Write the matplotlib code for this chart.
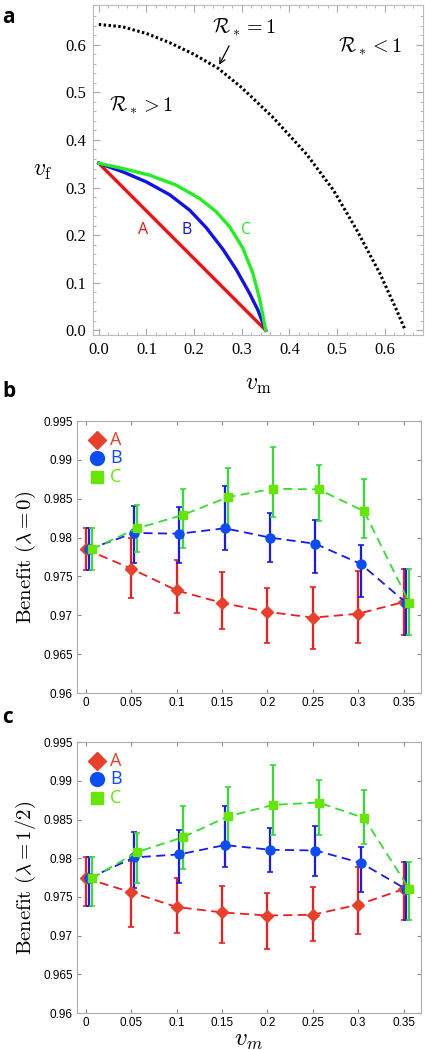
import numpy as np
import matplotlib
matplotlib.use("Agg")
import matplotlib.pyplot as plt

plt.rcParams["mathtext.fontset"] = "cm"

# panel a: curves
crit_vm = [0.0, 0.05, 0.1, 0.15, 0.2, 0.25, 0.3, 0.366, 0.436, 0.492, 0.541, 0.59, 0.625, 0.643]
crit_vf = [0.643, 0.638, 0.624, 0.604, 0.580, 0.551, 0.510, 0.447, 0.370, 0.295, 0.211, 0.119, 0.042, 0.0]

a_vm = [0.0, 0.35]
a_vf = [0.351, 0.0]
b_vm = [0.0, 0.0505, 0.0995, 0.1485, 0.1905, 0.2255, 0.2605, 0.2887, 0.3166, 0.334, 0.35]
b_vf = [0.351, 0.333, 0.312, 0.285, 0.2526, 0.2155, 0.170, 0.127, 0.077, 0.042, 0.0]
c_vm = [0.0, 0.0505, 0.1065, 0.1626, 0.2116, 0.2466, 0.2746, 0.3025, 0.3235, 0.3376, 0.3445, 0.35]
c_vf = [0.351, 0.340, 0.326, 0.305, 0.277, 0.249, 0.2175, 0.172, 0.119, 0.065, 0.030, 0.0]

# panels b, c
vm = [0.0, 0.05, 0.1, 0.15, 0.2, 0.25, 0.3, 0.35]
shift = {"A": 0.0, "B": 0.003, "C": 0.0065}

b_A = [0.9785, 0.9760, 0.9732, 0.9716, 0.97045, 0.9697, 0.9702, 0.9717]
b_A_lo = [0.9758, 0.9722, 0.9703, 0.9683, 0.9664, 0.9656, 0.9664, 0.9675]
b_A_hi = [0.9812, 0.9800, 0.9771, 0.9756, 0.9735, 0.9737, 0.9757, 0.9760]
b_B = [0.9785, 0.9806, 0.9805, 0.9812, 0.9800, 0.9792, 0.9766, 0.9716]
b_B_lo = [0.9758, 0.9767, 0.9767, 0.9784, 0.9768, 0.9754, 0.9723, 0.9675]
b_B_hi = [0.9812, 0.9841, 0.9839, 0.9866, 0.9832, 0.9823, 0.9790, 0.9760]
b_C = [0.9785, 0.9812, 0.9829, 0.9852, 0.9863, 0.9862, 0.9834, 0.9716]
b_C_lo = [0.9758, 0.9782, 0.9787, 0.9810, 0.9827, 0.9822, 0.9800, 0.9675]
b_C_hi = [0.9812, 0.9842, 0.9863, 0.9889, 0.9917, 0.9893, 0.9876, 0.9760]

c_A = [0.9774, 0.9756, 0.9737, 0.9730, 0.9726, 0.9727, 0.9740, 0.9760]
c_A_lo = [0.9738, 0.9711, 0.9704, 0.9690, 0.9683, 0.9693, 0.9702, 0.9720]
c_A_hi = [0.9802, 0.9797, 0.9775, 0.9764, 0.9755, 0.9763, 0.9789, 0.9795]
c_B = [0.9774, 0.9801, 0.9805, 0.9817, 0.9811, 0.9810, 0.9794, 0.9760]
c_B_lo = [0.9738, 0.9761, 0.9768, 0.9789, 0.9782, 0.9777, 0.9756, 0.9720]
c_B_hi = [0.9802, 0.9834, 0.9837, 0.9867, 0.9839, 0.9842, 0.9815, 0.9795]
c_C = [0.9774, 0.9808, 0.9827, 0.9854, 0.9869, 0.9872, 0.9852, 0.9760]
c_C_lo = [0.9738, 0.9768, 0.9786, 0.9814, 0.9830, 0.9830, 0.9819, 0.9720]
c_C_hi = [0.9802, 0.9832, 0.9867, 0.9892, 0.9920, 0.9901, 0.9888, 0.9795]

fig = plt.figure(figsize=(4.25, 10.5), dpi=100)

# ---- panel a
ax = fig.add_axes([0.219, 0.681, 0.776, 0.3143])
ax.plot(crit_vm, crit_vf, color="black", ls=(0, (0.8, 0.8)), lw=2.2)
ax.plot(a_vm, a_vf, color="#ee1111", lw=2.4)
ax.plot(b_vm, b_vf, color="#1111ee", lw=2.4, solid_joinstyle="round")
ax.plot(c_vm, c_vf, color="#22ee22", lw=2.4, solid_joinstyle="round")
ax.set_xlim(-0.012, 0.68)
ax.set_ylim(-0.01, 0.684)
ax.set_xticks(np.arange(0, 0.61, 0.1))
ax.set_yticks(np.arange(0, 0.61, 0.1))
ax.set_xticks(np.arange(0, 0.67, 0.02), minor=True)
ax.set_yticks(np.arange(0, 0.67, 0.02), minor=True)
ax.xaxis.set_major_formatter(matplotlib.ticker.FormatStrFormatter("%.1f"))
ax.yaxis.set_major_formatter(matplotlib.ticker.FormatStrFormatter("%.1f"))
ax.tick_params(which="both", direction="in", top=True, right=True, color="#aaaaaa",
               labelsize=12, pad=5, labelfontfamily="Liberation Serif")
ax.tick_params(which="major", length=5)
ax.tick_params(which="minor", length=2.5)
for s in ax.spines.values():
    s.set_color("#bbbbbb")
ax.text(0.093, 0.21, "A", color="#ee1111", fontsize=11.5, ha="center", va="center", family="Open Sans")
ax.text(0.184, 0.21, "B", color="#1111ee", fontsize=11.5, ha="center", va="center", family="Open Sans")
ax.text(0.31, 0.21, "C", color="#22ee22", fontsize=11.5, ha="center", va="center", family="Open Sans")
ax.text(0.306, 0.638, r"$\mathcal{R}_* = 1$", fontsize=14.5, ha="center", va="center")
ax.text(0.57, 0.596, r"$\mathcal{R}_* < 1$", fontsize=14.5, ha="center", va="center")
ax.text(0.09, 0.474, r"$\mathcal{R}_* > 1$", fontsize=14.5, ha="center", va="center")
ax.annotate("", xy=(0.25, 0.553), xytext=(0.276, 0.603),
            arrowprops=dict(arrowstyle="->", color="black", lw=0.9))
ax.set_xlabel(r"$v_\mathrm{m}$", fontsize=17, labelpad=10)
ax.set_ylabel(r"$v_\mathrm{f}$", fontsize=17, rotation=0, labelpad=16, va="center")

fig.text(0.005, 0.993, "a", fontsize=15, fontweight="bold", va="top", family="Open Sans")
fig.text(0.005, 0.637, "b", fontsize=15, fontweight="bold", va="top", family="Open Sans")
fig.text(0.005, 0.327, "c", fontsize=15, fontweight="bold", va="top", family="Open Sans")

line_col = {"A": "#ee1c1c", "B": "#1a1aee", "C": "#33dd33"}
mark_col = {"A": "#e8402a", "B": "#0a4cf5", "C": "#66e600"}
mark = {"A": "D", "B": "o", "C": "s"}
msize = {"A": 6, "B": 6.5, "C": 5.5}
leg_size = {"A": 9.5, "B": 10, "C": 8.5}


def benefit_panel(rect, series, ylab, xlab):
    ax = fig.add_axes(rect)
    for key, y, lo, hi in series:
        x = np.array(vm) + shift[key]
        y = np.array(y)
        yerr = [y - np.array(lo), np.array(hi) - y]
        ax.errorbar(x, y, yerr=yerr, color=line_col[key], ls=(0, (5, 3)), lw=1.3,
                    elinewidth=1.6, capsize=2.5, capthick=1.2,
                    marker=mark[key], ms=msize[key], mfc=mark_col[key], mec=mark_col[key])
    ax.set_xlim(-0.0099, 0.369)
    ax.set_ylim(0.96, 0.995)
    ax.set_xticks(vm)
    ax.set_xticklabels(["0", "0.05", "0.1", "0.15", "0.2", "0.25", "0.3", "0.35"])
    yt = [0.96, 0.965, 0.97, 0.975, 0.98, 0.985, 0.99, 0.995]
    ax.set_yticks(yt)
    ax.set_yticklabels(["0.96", "0.965", "0.97", "0.975", "0.98", "0.985", "0.99", "0.995"])
    ax.tick_params(direction="in", top=True, right=True, length=3, color="#888888",
                   labelsize=8.5, pad=3, labelfontfamily="Liberation Sans")
    for s in ax.spines.values():
        s.set_color("#aaaaaa")
    ax.set_ylabel(ylab, fontsize=15, labelpad=4)
    if xlab:
        ax.set_xlabel(xlab, fontsize=18, labelpad=-1)
    # legend drawn as markers + coloured letters
    for i, key in enumerate(["A", "B", "C"]):
        yy = 0.9926 - i * 0.0024
        ax.plot([0.0125], [yy], marker=mark[key], ms=leg_size[key], color=mark_col[key], ls="none")
        ax.text(0.0265, yy, key, color=mark_col[key], fontsize=13, va="center",
                family="Open Sans")
    return ax


benefit_panel([0.181, 0.34, 0.809, 0.259],
              [("A", b_A, b_A_lo, b_A_hi), ("B", b_B, b_B_lo, b_B_hi), ("C", b_C, b_C_lo, b_C_hi)],
              r"$\mathrm{Benefit}\ (\lambda = 0)$", None)
benefit_panel([0.181, 0.0352, 0.809, 0.258],
              [("A", c_A, c_A_lo, c_A_hi), ("B", c_B, c_B_lo, c_B_hi), ("C", c_C, c_C_lo, c_C_hi)],
              r"$\mathrm{Benefit}\ (\lambda = 1/2)$", r"$v_m$")

fig.savefig("out.png", dpi=100)
